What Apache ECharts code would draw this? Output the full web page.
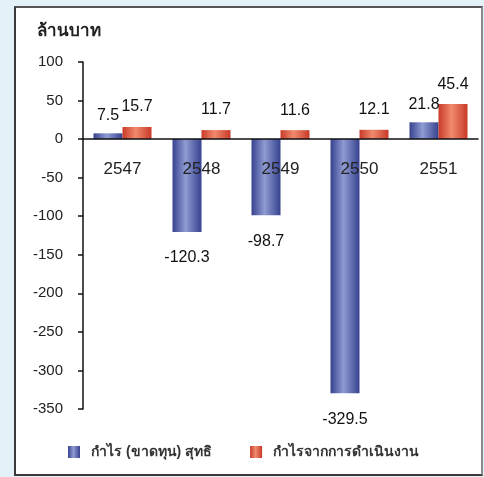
<!DOCTYPE html>
<html>
<head>
<meta charset="utf-8">
<script src="https://cdn.jsdelivr.net/npm/echarts@6/dist/echarts.min.js"></script>
<style>
  html, body { margin: 0; padding: 0; background: #e4f1f8; }
  #frame {
    position: absolute; left: 14px; top: 6px; width: 465px; height: 466px;
    background: #ffffff; border: 2px solid #3a3a3a; border-right-color: #8a8a8a; border-top-color: #555;
  }
  #chart { position: absolute; left: 0; top: 0; width: 484px; height: 477px; }
</style>
</head>
<body>
<div id="frame"></div>
<div id="chart"></div>
<script>
// Years (Thai Buddhist calendar)
const years = ['2547', '2548', '2549', '2550', '2551'];
// Net profit (loss), million baht
const netProfit = [7.5, -120.3, -98.7, -329.5, 21.8];
// Operating profit, million baht
const operatingProfit = [15.7, 11.7, 11.6, 12.1, 45.4];
const seriesNames = ['กำไร (ขาดทุน) สุทธิ', 'กำไรจากการดำเนินงาน'];
const yTicks = { min: -350, max: 100, interval: 50 };

const FONT = '"Liberation Sans", Arial, sans-serif';

function cylinder(dark, light) {
  return new echarts.graphic.LinearGradient(0, 0, 1, 0, [
    { offset: 0, color: dark },
    { offset: 0.45, color: light },
    { offset: 1, color: dark }
  ]);
}

function fmt(v) { return v.toFixed(1); }

function withLabels(values, distance) {
  return values.map(v => ({
    value: v,
    label: { position: v < 0 ? 'bottom' : 'top', distance: v < 0 ? 18 : distance }
  }));
}

const chart = echarts.init(document.getElementById('chart'), null, { renderer: 'canvas' });
chart.setOption({
  backgroundColor: 'transparent',
  animation: false,
  title: {
    text: 'ล้านบาท', left: 32, top: 18,
    textStyle: { fontSize: 17, fontWeight: 'bold', color: '#222', fontFamily: FONT }
  },
  legend: {
    bottom: 13, left: 63, itemGap: 38, itemWidth: 12, itemHeight: 12,
    icon: 'rect',
    textStyle: { fontSize: 14, fontWeight: 'bold', color: '#333', fontFamily: FONT, padding: [0, 0, 0, 6] },
    data: seriesNames
  },
  grid: { left: 83, right: 6, top: 62, bottom: 68, containLabel: false },
  xAxis: {
    type: 'category', data: years,
    axisLine: { onZero: true, lineStyle: { color: '#111', width: 1.5 } },
    axisTick: { show: false },
    axisLabel: { margin: 22, fontSize: 17, color: '#222', fontFamily: FONT },
    z: 10
  },
  yAxis: {
    type: 'value', min: yTicks.min, max: yTicks.max, interval: yTicks.interval,
    axisLine: { show: true, lineStyle: { color: '#111', width: 1.5 } },
    axisTick: { show: true, inside: false, length: 5, lineStyle: { color: '#111', width: 1.5 } },
    axisLabel: { margin: 20, fontSize: 15, color: '#222', fontFamily: FONT },
    splitLine: { show: false }
  },
  series: [
    {
      name: seriesNames[0], type: 'bar', barWidth: 29, barGap: '0%',
      itemStyle: { color: cylinder('#36428f', '#8f9bd2') },
      label: { show: true, fontSize: 16, color: '#111', fontFamily: FONT, formatter: p => fmt(p.value) },
      data: withLabels(netProfit, 10)
    },
    {
      name: seriesNames[1], type: 'bar', barWidth: 29, barGap: '0%',
      itemStyle: { color: cylinder('#c93a28', '#f08a6e') },
      label: { show: true, fontSize: 16, color: '#111', fontFamily: FONT, formatter: p => fmt(p.value) },
      data: withLabels(operatingProfit, 12)
    }
  ]
});

// Year labels sit just under the zero line: shift them up from the grid bottom
const zeroY = chart.convertToPixel({ yAxisIndex: 0 }, 0);
const bottomY = chart.convertToPixel({ yAxisIndex: 0 }, yTicks.min);
chart.setOption({ xAxis: { axisLabel: { margin: 22 - (bottomY - zeroY) } } });
</script>
</body>
</html>
